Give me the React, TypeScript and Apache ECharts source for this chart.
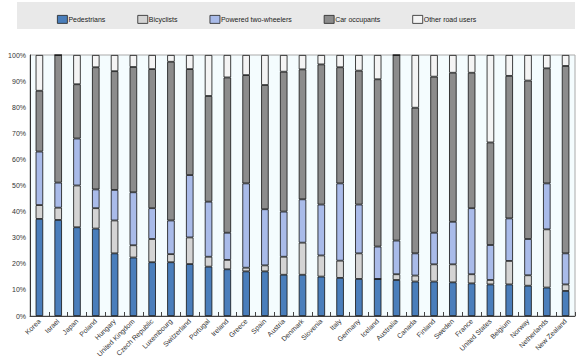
import React, { useEffect, useRef } from "react";
import * as echarts from "echarts";

const countries = ["Korea","Israel","Japan","Poland","Hungary","United Kingdom","Czech Republic","Luxembourg","Switzerland","Portugal","Ireland","Greece","Spain","Austria","Denmark","Slovenia","Italy","Germany","Iceland","Australia","Canada","Finland","Sweden","France","United States","Belgium","Norway","Netherlands","New Zealand"];

const pedestrians = [37.2,36.8,34,33.5,24,22.4,20.6,20.6,19.9,18.9,17.9,17.1,17.1,15.8,15.8,15.1,14.6,14.2,14.2,13.8,13.2,13.2,12.9,12.5,12.1,12.1,11.6,10.9,9.6];
const bicyclists = [5.3,4.7,16,7.8,12.6,4.7,8.9,3.1,10.2,3.8,3.6,1.4,2.3,6.9,12.3,8.1,6.6,9.8,0,2.2,2.3,6.6,6.9,3.5,1.7,9,4,22.3,2.5];
const poweredTwoWheelers = [20.5,9.6,18,7.2,11.7,20.3,11.8,12.9,23.9,21.1,10.4,32.3,21.5,17.3,16.6,19.5,29.6,18.7,12.4,12.9,8.5,12.1,16.3,25.3,13.4,16.3,13.9,17.6,11.9];
const carOccupants = [23.3,48.9,20.8,46.8,45.5,48,53.3,60.8,40.6,40.5,59.5,41.5,47.6,53.6,49.8,53.7,44.5,51.3,64.1,71.1,55.8,59.8,57.1,51.9,39.3,54.6,60.7,44.1,71.8];
const otherRoadUsers = [13.7,0,11.2,4.7,6.2,4.6,5.4,2.6,5.4,15.7,8.6,7.7,11.5,6.4,5.5,3.6,4.7,6,9.3,0,20.2,8.3,6.8,6.8,33.5,8,9.8,5.1,4.2];

const seriesNames = ["Pedestrians","Bicyclists","Powered two-wheelers","Car occupants","Other road users"];
const seriesData = [pedestrians, bicyclists, poweredTwoWheelers, carOccupants, otherRoadUsers];
const colors = ["#4a7ebb","#d4d4d4","#a9bbe9","#8c8c8c","#f4f4f4"];

export default function App() {
  const ref = useRef<HTMLDivElement>(null);
  useEffect(() => {
    const chart = echarts.init(ref.current!, null, { renderer: "svg" });
    const font = "Liberation Sans, Arial, sans-serif";
    chart.setOption({
      animation: false,
      textStyle: { fontFamily: font },
      graphic: [
        { type: "rect", left: 17, top: 2, shape: { width: 558, height: 27 }, style: { fill: "#e9e9e9" }, z: -1 },
      ],
      legend: {
        left: 52, top: 10, itemWidth: 10, itemHeight: 8, itemGap: 32,
        icon: "rect",
        textStyle: { fontSize: 7, color: "#222", fontFamily: font, padding: [0, 0, 0, -4] },
        itemStyle: { borderColor: "#222", borderWidth: 0.8 },
        data: seriesNames,
      },
      grid: {
        left: 30, right: 7, top: 55, bottom: 48,
        show: true, backgroundColor: "#f4fcfe", borderColor: "#aaa", borderWidth: 1,
      },
      xAxis: {
        type: "category", data: countries,
        axisLine: { lineStyle: { color: "#444" } },
        axisTick: { show: true, inside: true, length: 4, lineStyle: { color: "#444" } },
        axisLabel: { rotate: 45, fontSize: 7, color: "#333", interval: 0, margin: 4 },
      },
      yAxis: {
        type: "value", min: 0, max: 100, interval: 10,
        axisLine: { show: true, lineStyle: { color: "#333" } },
        axisTick: { show: false },
        splitLine: { show: false },
        axisLabel: { formatter: "{value}%", fontSize: 7, color: "#333", margin: 4 },
      },
      series: seriesNames.map((name, i) => ({
        name, type: "bar", stack: "total", data: seriesData[i],
        barWidth: "40%",
        itemStyle: { color: colors[i], borderColor: "#111", borderWidth: 0.8 },
      })),
    });
    return () => chart.dispose();
  }, []);
  return <div ref={ref} style={{ width: 582, height: 364, position: "absolute", left: 0, top: 0 }} />;
}
